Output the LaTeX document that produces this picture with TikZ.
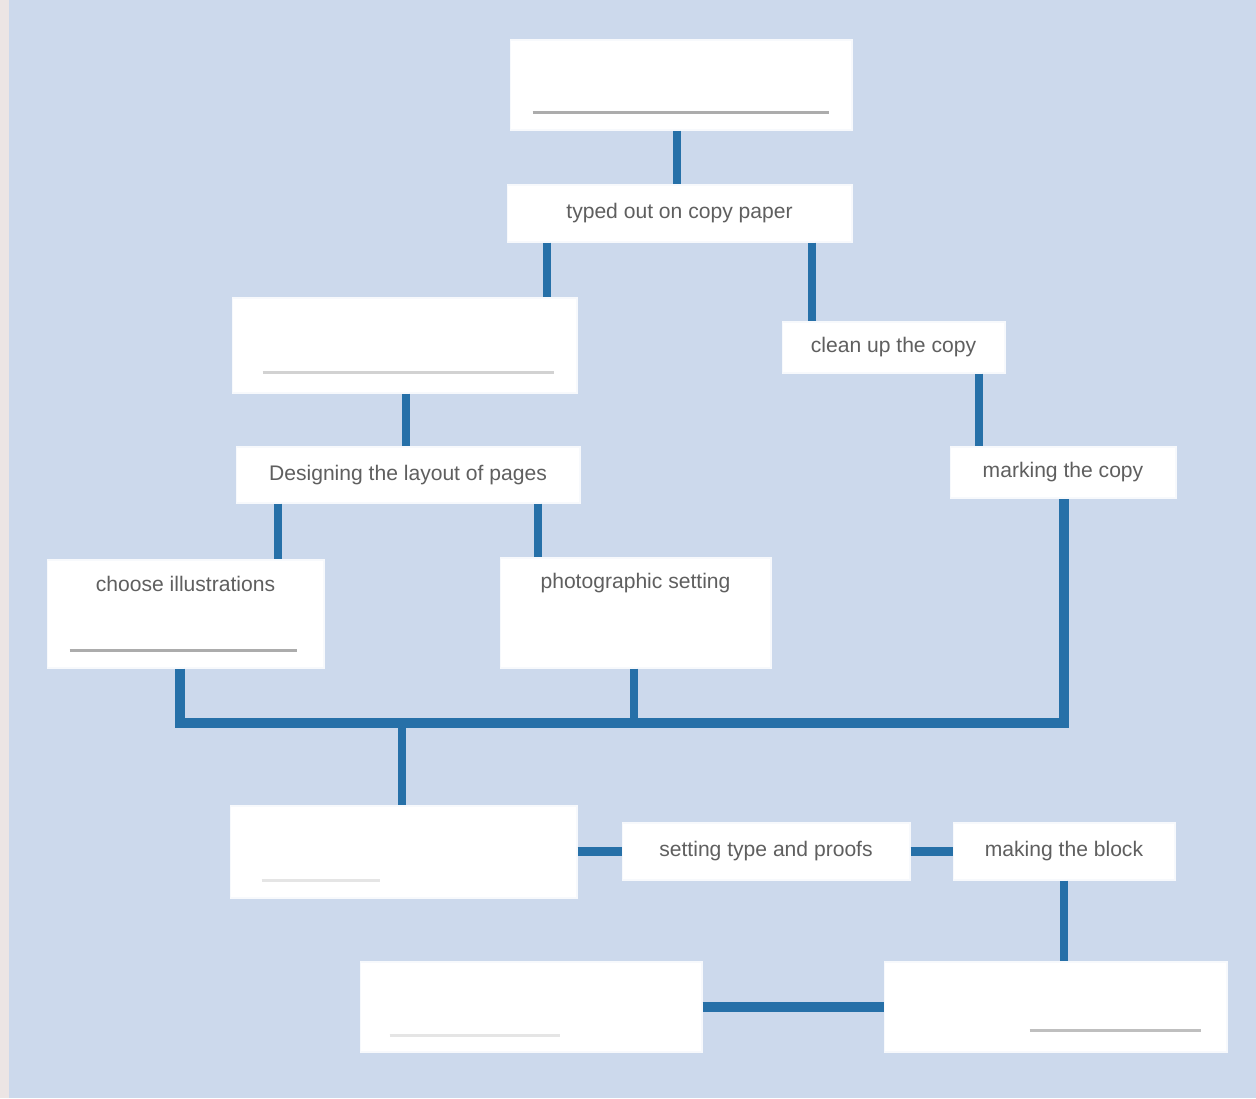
\documentclass[tikz,border=0pt]{standalone}
\usepackage{fontspec}
\setmainfont{Liberation Sans}
\definecolor{pageblue}{RGB}{204, 217, 236}
\definecolor{linkblue}{RGB}{38, 112, 168}
\definecolor{inkgray}{RGB}{95, 95, 95}
\definecolor{scanedge}{RGB}{236, 229, 228}
\usetikzlibrary{positioning, calc}

\begin{document}
\begin{tikzpicture}[x=0.02cm, y=-0.02cm,
  card/.style={fill=white, draw=white!85!pageblue, line width=0.6pt, inner sep=0pt},
  tag/.style={card, font=\fontsize{12}{14}\selectfont, text=inkgray},
  tagtext/.style={font=\fontsize{12}{14}\selectfont, text=inkgray},
  link/.style={draw=linkblue, line width=4.5pt},
  bus/.style={draw=linkblue, line width=5.5pt, line join=miter},
  rule/.style={draw=gray!#1, line width=1.6pt}]
  \fill[pageblue] (0,0) rectangle (1256,1098);
  \fill[scanedge] (0,0) rectangle (9,1098);
  \useasboundingbox (0,0) rectangle (1256,1098);

  \node[card, minimum width=6.84cm, minimum height=1.8cm] (top) at (681,85) {};
  \node[tag, minimum width=6.9cm, minimum height=1.14cm] (typeout) at (679.5,213.5) {typed out on copy paper};
  \node[card, minimum width=6.9cm, minimum height=1.9cm] (layout) at (404.5,345.5) {};
  \node[tag, minimum width=4.46cm, minimum height=1.02cm] (cleanup) at (893.5,347.5) {clean up the copy};
  \node[tag, minimum width=4.52cm, minimum height=1.02cm] (marking) at (1063,472.5) {marking the copy};
  \node[tag, minimum width=6.88cm, minimum height=1.12cm] (designing) at (408,475) {Designing the layout of pages};
  \node[card, minimum width=5.54cm, minimum height=2.16cm,
    label={[tagtext, anchor=north, yshift=-0.22cm]north:choose illustrations}] (illus) at (185.5,614) {};
  \node[card, minimum width=5.42cm, minimum height=2.2cm,
    label={[tagtext, anchor=north, yshift=-0.2cm]north:photographic setting}] (photo) at (635.5,613) {};
  \node[card, minimum width=6.94cm, minimum height=1.84cm] (proofbox) at (403.5,852) {};
  \node[tag, minimum width=5.76cm, minimum height=1.14cm] (setting) at (766,851.5) {setting type and proofs};
  \node[tag, minimum width=4.44cm, minimum height=1.14cm] (block) at (1064,851.5) {making the block};
  \node[card, minimum width=6.86cm, minimum height=1.8cm] (platebox) at (1055.5,1007) {};
  \node[card, minimum width=6.84cm, minimum height=1.8cm] (printbox) at (531,1007) {};

  \draw[rule=65] ($(top.south west)+(23,-18)$) -- ($(top.south east)+(-24,-18)$);
  \draw[rule=35] ($(layout.south west)+(31,-21)$) -- ($(layout.south east)+(-24,-21)$);
  \draw[rule=65] ($(illus.south west)+(23,-18)$) -- ($(illus.south east)+(-28,-18)$);
  \draw[rule=20] ($(proofbox.south west)+(32,-18)$) -- ($(proofbox.south west)+(150,-18)$);
  \draw[rule=20] ($(printbox.south west)+(30,-17)$) -- ($(printbox.south west)+(200,-17)$);
  \draw[rule=50] ($(platebox.south west)+(146,-22)$) -- ($(platebox.south east)+(-27,-22)$);

  \coordinate (busleft) at (180,723);
  \coordinate (busright) at (1064,723);
  \coordinate (busmid) at (634,723);
  \coordinate (busdrop) at (402,723);

  \draw[link] (top.south -| 677,0) -- (typeout.north -| 677,0);
  \draw[link] (typeout.south -| 547,0) -- (layout.north -| 547,0);
  \draw[link] (typeout.south -| 812,0) -- (cleanup.north -| 812,0);
  \draw[link] (cleanup.south -| 979,0) -- (marking.north -| 979,0);
  \draw[link] (layout.south -| 406,0) -- (designing.north -| 406,0);
  \draw[link] (designing.south -| 278,0) -- (illus.north -| 278,0);
  \draw[link] (designing.south -| 538,0) -- (photo.north -| 538,0);
  \draw[bus] (illus.south -| busleft) -- (busleft) -- (busright) -- (marking.south -| busright);
  \draw[link] (photo.south -| busmid) -- (busmid);
  \draw[link] (busdrop) -- (proofbox.north -| busdrop);
  \draw[bus] (setting.west -| proofbox.east) -- (setting.west);
  \draw[bus] (setting.east) -- (block.west);
  \draw[link] (block.south -| 1064,0) -- (platebox.north -| 1064,0);
  \draw[bus] (printbox.east) -- (platebox.west);
\end{tikzpicture}
\end{document}
